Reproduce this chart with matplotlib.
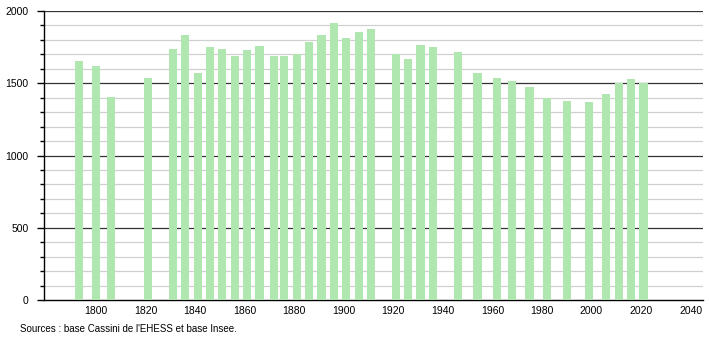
import matplotlib.pyplot as plt
from matplotlib.ticker import MultipleLocator

plt.rcParams['font.family'] = ['Liberation Sans', 'DejaVu Sans']

years = [1793, 1800, 1806, 1821, 1831, 1836, 1841, 1846, 1851, 1856,
         1861, 1866, 1872, 1876, 1881, 1886, 1891, 1896, 1901, 1906,
         1911, 1921, 1926, 1931, 1936, 1946, 1954, 1962, 1968, 1975,
         1982, 1990, 1999, 2006, 2011, 2016, 2021]
population = [1654, 1621, 1405, 1536, 1737, 1836, 1571, 1751, 1737, 1691,
              1730, 1758, 1686, 1686, 1700, 1785, 1834, 1915, 1811, 1855,
              1875, 1700, 1668, 1767, 1751, 1719, 1571, 1536, 1516, 1472,
              1396, 1380, 1373, 1426, 1504, 1529, 1502]
x_ticks = list(range(1800, 2041, 20))
y_ticks = [0, 500, 1000, 1500, 2000]
source_text = "Sources : base Cassini de l'EHESS et base Insee."

fig = plt.figure(figsize=(7.1, 3.4), dpi=100)
ax = fig.add_axes([0.062, 0.1176, 0.928, 0.85])

ax.bar(years, population, width=3.3, color='#b0e6b0', zorder=3)

# grid: light every 100, dark every 500
for v in range(100, 2001, 100):
    if v % 500 == 0:
        ax.axhline(v, color='#333333', lw=0.9, zorder=1)
    else:
        ax.axhline(v, color='#d0d0d0', lw=0.9, zorder=1)

ax.set_xlim(1779, 2045)
ax.set_ylim(0, 2000)
ax.set_xticks(x_ticks)
ax.set_yticks(y_ticks)
ax.yaxis.set_minor_locator(MultipleLocator(100))
ax.tick_params(axis='x', length=0, labelsize=7.5, pad=4)
ax.tick_params(axis='y', which='major', length=5, width=1, labelsize=7.5, pad=6)
ax.tick_params(axis='y', which='minor', length=3, width=1)

for s in ['top', 'right']:
    ax.spines[s].set_visible(False)
ax.spines['left'].set_linewidth(1)
ax.spines['bottom'].set_linewidth(1)

fig.text(0.028, 0.025, source_text, fontsize=7)

fig.savefig('out.png', dpi=100)
